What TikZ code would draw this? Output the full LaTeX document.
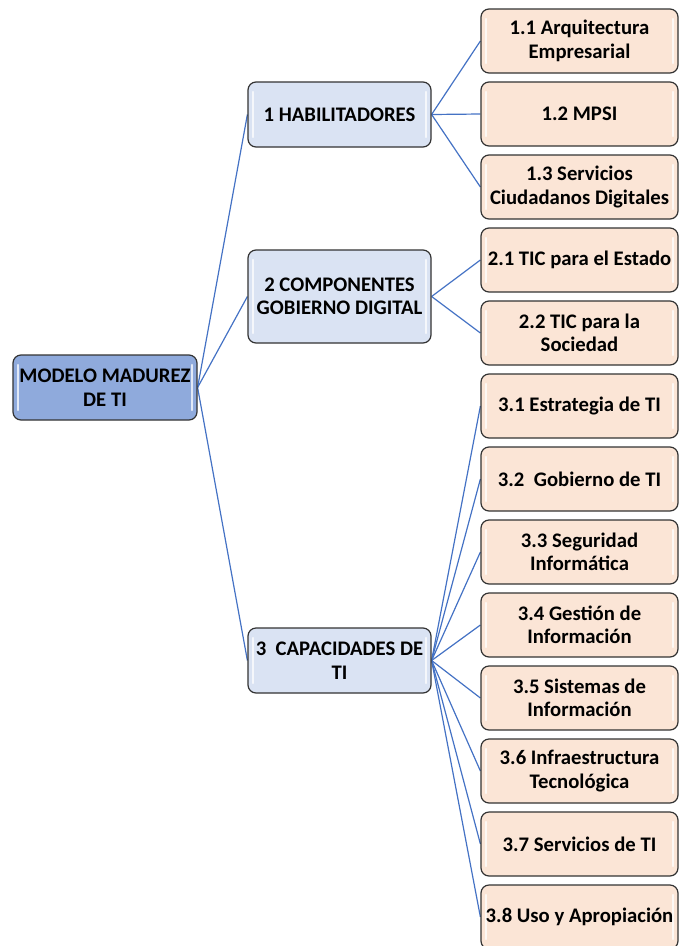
\documentclass[tikz,border=0pt]{standalone}
\usepackage{fontspec}
\setmainfont{Carlito}
\usetikzlibrary{backgrounds}
\definecolor{rootfill}{HTML}{8FAADC}
\definecolor{lonefill}{HTML}{DAE3F3}
\definecolor{ltwofill}{HTML}{FBE5D6}
\definecolor{boxline}{HTML}{333333}
\definecolor{linkblue}{HTML}{4472C4}
\begin{document}
\begin{tikzpicture}[x=1pt,y=-1pt,
  box/.style={draw=boxline, line width=1.2pt, rounded corners=8pt, inner sep=0pt,
    align=center, text=black, font=\fontsize{20.7}{23.5}\selectfont\bfseries,
    path picture={
      \draw[white, line width=2.2pt, opacity=0.75, line cap=round]
        ([xshift=5pt,yshift=-10pt]path picture bounding box.north west) --
        ([xshift=5pt,yshift=10pt]path picture bounding box.south west);
      \draw[white, line width=2.2pt, opacity=0.75, line cap=round]
        ([xshift=-5pt,yshift=-10pt]path picture bounding box.north east) --
        ([xshift=-5pt,yshift=10pt]path picture bounding box.south east);
    }},
  rootbox/.style={box, fill=rootfill, minimum width=184pt, minimum height=65pt},
  lonebox/.style={box, fill=lonefill, minimum width=183pt, minimum height=65pt},
  ltwobox/.style={box, fill=ltwofill, minimum width=197pt, minimum height=64pt},
  link/.style={draw=linkblue, line width=1.2pt}]
\useasboundingbox (0,0) rectangle (679,946);
\clip (0,0) rectangle (679,946);

\node[rootbox] (root) at (105,387.5) {MODELO MADUREZ\\DE TI};
\node[lonebox] (hab) at (339.5,114.5) {1 HABILITADORES};
\node[lonebox, minimum height=93pt] (comp) at (339.5,296.5) {2 COMPONENTES\\GOBIERNO DIGITAL};
\node[lonebox] (cap) at (339.5,660.5) {3\ \ CAPACIDADES DE\\TI};

\node[ltwobox] (a1) at (579.5,41) {1.1 Arquitectura\\Empresarial};
\node[ltwobox] (a2) at (579.5,114) {1.2 MPSI};
\node[ltwobox] (a3) at (579.5,187) {1.3 Servicios\\Ciudadanos Digitales};
\node[ltwobox] (b1) at (579.5,260) {2.1 TIC para el Estado};
\node[ltwobox] (b2) at (579.5,333) {2.2 TIC para la\\Sociedad};
\node[ltwobox] (c1) at (579.5,406) {3.1 Estrategia de TI};
\node[ltwobox] (c2) at (579.5,479) {3.2\ \ Gobierno de TI};
\node[ltwobox] (c3) at (579.5,552) {3.3 Seguridad\\Informática};
\node[ltwobox] (c4) at (579.5,625) {3.4 Gestión de\\Información};
\node[ltwobox] (c5) at (579.5,698) {3.5 Sistemas de\\Información};
\node[ltwobox] (c6) at (579.5,771) {3.6 Infraestructura\\Tecnológica};
\node[ltwobox] (c7) at (579.5,844) {3.7 Servicios de TI};
\node[ltwobox] (c8) at (579.5,917) {3.8 Uso y Apropiación};

\begin{scope}[on background layer]
  \foreach \t in {hab,comp,cap} \draw[link] (root.east) -- (\t.west);
  \foreach \t in {a1,a2,a3} \draw[link] (hab.east) -- (\t.west);
  \foreach \t in {b1,b2} \draw[link] (comp.east) -- (\t.west);
  \foreach \t in {c1,c2,c3,c4,c5,c6,c7,c8} \draw[link] (cap.east) -- (\t.west);
\end{scope}
\end{tikzpicture}
\end{document}
